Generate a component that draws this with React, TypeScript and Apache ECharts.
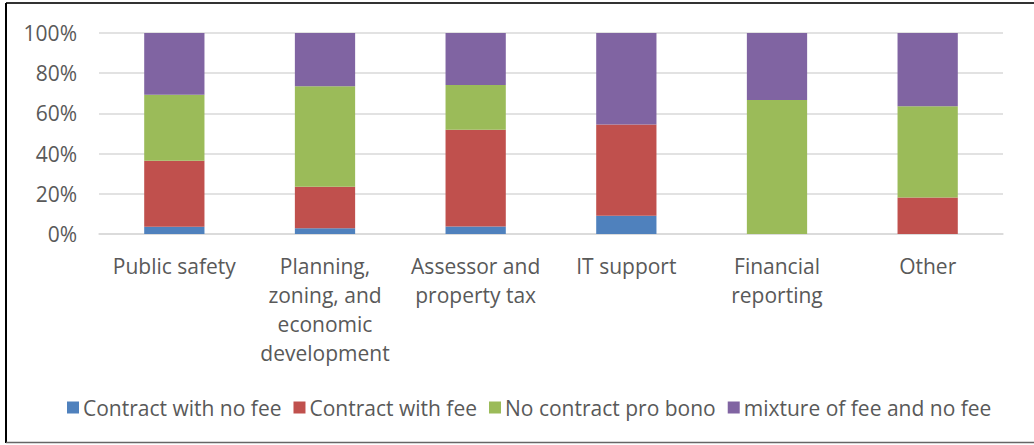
import React, { useEffect, useRef } from "react";
import * as echarts from "echarts";

const categories = [
  "Public safety",
  "Planning,\nzoning, and\neconomic\ndevelopment",
  "Assessor and\nproperty tax",
  "IT support",
  "Financial\nreporting",
  "Other",
];
const contractNoFee = [3.6, 2.9, 3.7, 9.1, 0, 0];
const contractWithFee = [32.9, 20.6, 48.2, 45.4, 0, 18.2];
const noContractProBono = [32.8, 50.0, 22.2, 0, 66.7, 45.4];
const mixture = [30.7, 26.5, 25.9, 45.5, 33.3, 36.4];
const seriesNames = [
  "Contract with no fee",
  "Contract with fee",
  "No contract pro bono",
  "mixture of fee and no fee",
];
const colors = ["#4F81BD", "#C0504D", "#9BBB59", "#8064A2"];
const yTicks = [0, 20, 40, 60, 80, 100];

const FONT = "'Open Sans', sans-serif";
const TEXT = "#595959";

export default function App() {
  const ref = useRef<HTMLDivElement>(null);
  useEffect(() => {
    if (!ref.current) return;
    const chart = echarts.init(ref.current, null, { renderer: "svg" });
    const data = [contractNoFee, contractWithFee, noContractProBono, mixture];
    chart.setOption({
      animation: false,
      textStyle: { fontFamily: FONT },
      grid: { left: 99, right: 31, top: 33, bottom: 211, containLabel: false },
      legend: {
        data: seriesNames,
        top: 392,
        left: 62,
        itemWidth: 12,
        itemHeight: 12,
        itemGap: 12,
        icon: "rect",
        textStyle: { fontFamily: FONT, fontSize: 21, color: TEXT, padding: [0, 0, 0, -1] },
      },
      xAxis: {
        type: "category",
        data: categories,
        axisLine: { lineStyle: { color: "#d9d9d9", width: 1.5 } },
        axisTick: { show: false },
        axisLabel: {
          interval: 0,
          color: TEXT,
          fontFamily: FONT,
          fontSize: 21,
          lineHeight: 29,
          margin: 17,
        },
      },
      yAxis: {
        type: "value",
        min: yTicks[0],
        max: yTicks[yTicks.length - 1],
        interval: 20,
        axisLine: { show: false },
        axisTick: { show: false },
        splitLine: { lineStyle: { color: "#d9d9d9", width: 1.5 } },
        axisLabel: {
          color: TEXT,
          fontFamily: FONT,
          fontSize: 21,
          margin: 22,
          formatter: "{value}%",
        },
      },
      series: seriesNames.map((name, i) => ({
        name,
        type: "bar",
        stack: "total",
        barWidth: "40%",
        itemStyle: { color: colors[i] },
        data: data[i],
      })),
      graphic: [
        { type: "line", shape: { x1: 6, y1: 3, x2: 1034, y2: 3 }, style: { stroke: "#333", lineWidth: 2 } },
        { type: "line", shape: { x1: 6, y1: 3, x2: 6, y2: 443 }, style: { stroke: "#000", lineWidth: 2 } },
        { type: "line", shape: { x1: 6, y1: 442.5, x2: 1034, y2: 442.5 }, style: { stroke: "#666", lineWidth: 1.5 } },
      ],
    });
    return () => chart.dispose();
  }, []);
  return (
    <div
      ref={ref}
      style={{ position: "absolute", left: 0, top: 0, width: 1034, height: 445 }}
    />
  );
}
